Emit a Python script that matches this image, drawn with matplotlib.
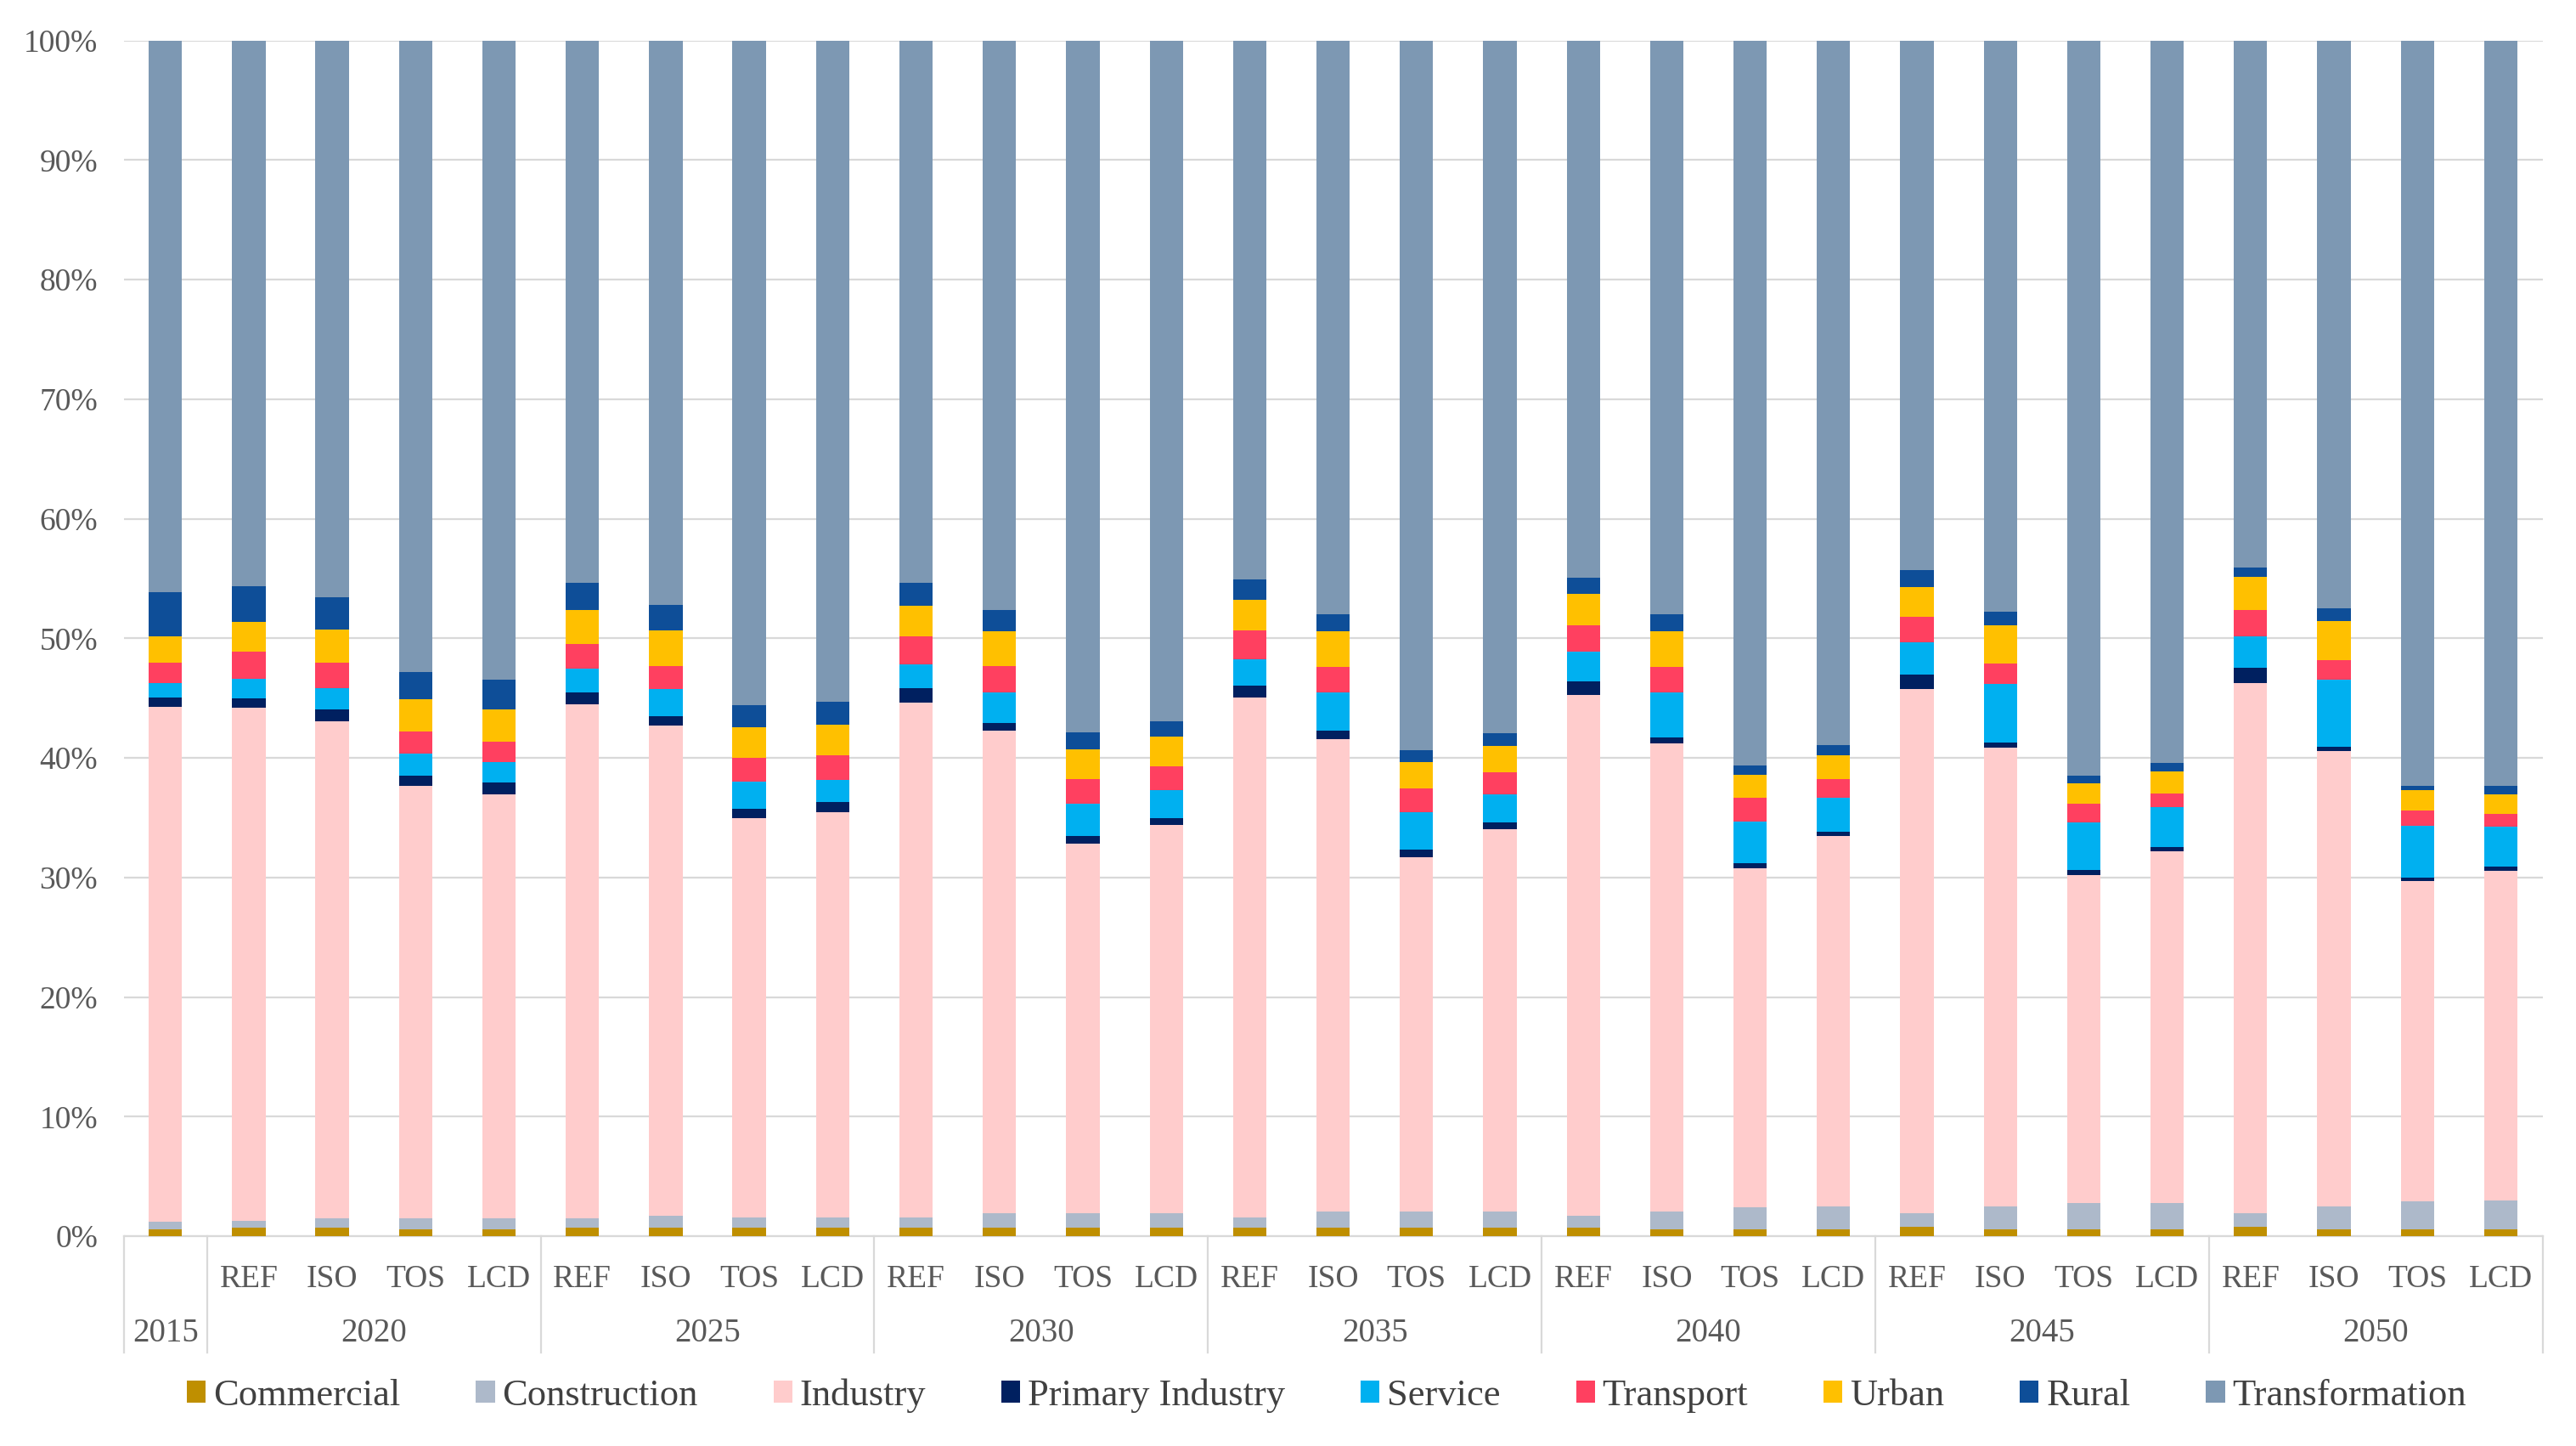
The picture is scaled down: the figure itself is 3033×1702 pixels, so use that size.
import numpy as np
import matplotlib.pyplot as plt
from matplotlib.transforms import blended_transform_factory

plt.rcParams['font.family'] = ['Liberation Serif', 'DejaVu Serif']

# categories: 2015 base year, then four scenarios per year
years = ['2020', '2025', '2030', '2035', '2040', '2045', '2050']
scenarios = ['REF', 'ISO', 'TOS', 'LCD']
bar_labels = [''] + scenarios * len(years)

# shares (%) per sector, bottom to top
commercial = [0.6, 0.7, 0.7, 0.6, 0.6, 0.7, 0.7, 0.7, 0.7, 0.7, 0.7, 0.7, 0.7, 0.7, 0.7,
              0.7, 0.7, 0.7, 0.6, 0.6, 0.6, 0.8, 0.6, 0.6, 0.6, 0.8, 0.6, 0.6, 0.6]
construction = [0.6, 0.6, 0.8, 0.9, 0.9, 0.8, 1.0, 0.9, 0.9, 0.9, 1.2, 1.2, 1.2, 0.9, 1.4,
                1.4, 1.4, 1.0, 1.5, 1.8, 1.9, 1.1, 1.9, 2.2, 2.2, 1.1, 1.9, 2.3, 2.4]
industry = [43.1, 42.9, 41.6, 36.2, 35.4, 43.0, 41.0, 33.3, 33.9, 43.0, 40.4, 31.0, 32.5, 43.4, 39.5,
            29.6, 31.9, 43.5, 39.1, 28.4, 31.0, 43.9, 38.4, 27.4, 29.4, 44.3, 38.1, 26.8, 27.5]
primary_industry = [0.8, 0.8, 1.0, 0.8, 1.0, 1.0, 0.8, 0.8, 0.8, 1.2, 0.6, 0.6, 0.6, 1.0, 0.7,
                    0.6, 0.6, 1.1, 0.5, 0.4, 0.4, 1.2, 0.4, 0.4, 0.4, 1.3, 0.4, 0.3, 0.4]
service = [1.2, 1.6, 1.8, 1.9, 1.7, 2.0, 2.3, 2.3, 1.9, 2.0, 2.6, 2.7, 2.3, 2.2, 3.2,
           3.1, 2.3, 2.5, 3.8, 3.5, 2.8, 2.7, 4.9, 4.0, 3.3, 2.6, 5.6, 4.3, 3.3]
transport = [1.7, 2.3, 2.1, 1.8, 1.7, 2.1, 1.9, 2.0, 2.0, 2.3, 2.2, 2.1, 2.0, 2.4, 2.1,
             2.0, 1.9, 2.2, 2.1, 2.0, 1.6, 2.1, 1.7, 1.6, 1.2, 2.2, 1.6, 1.3, 1.1]
urban = [2.2, 2.5, 2.8, 2.7, 2.7, 2.8, 3.0, 2.5, 2.6, 2.6, 2.9, 2.5, 2.5, 2.6, 3.0,
         2.2, 2.2, 2.6, 3.0, 1.9, 2.0, 2.5, 3.2, 1.7, 1.8, 2.8, 3.3, 1.7, 1.6]
rural = [3.7, 3.0, 2.7, 2.3, 2.5, 2.3, 2.1, 1.9, 1.9, 1.9, 1.8, 1.4, 1.3, 1.7, 1.4,
         1.0, 1.0, 1.4, 1.4, 0.8, 0.8, 1.4, 1.1, 0.6, 0.7, 0.8, 1.1, 0.4, 0.7]
transformation = [46.2, 45.6, 46.6, 52.8, 53.4, 45.4, 47.2, 55.5, 55.3, 45.3, 47.6, 57.9, 56.9, 45.0, 48.0,
                  59.3, 57.9, 44.8, 48.0, 60.7, 59.0, 44.3, 47.8, 61.5, 60.5, 44.0, 47.5, 62.3, 62.3]

sectors = ['Commercial', 'Construction', 'Industry', 'Primary Industry', 'Service',
           'Transport', 'Urban', 'Rural', 'Transformation']
colors = ['#BF8F00', '#ADB9CA', '#FFCCCC', '#002060', '#00B0F0',
          '#FF4060', '#FFC000', '#0E4E98', '#7D98B3']
data = np.array([commercial, construction, industry, primary_industry, service,
                 transport, urban, rural, transformation])
shares = data / data.sum(axis=0) * 100

fig = plt.figure(figsize=(30.33, 17.02), dpi=100)
ax = fig.add_axes([0.048, 0.145, 0.939, 0.827])

x = np.arange(len(bar_labels))
bottom = np.zeros(len(x))
for name, vals, col in zip(sectors, shares, colors):
    ax.bar(x, vals, 0.4, bottom=bottom, color=col, label=name, zorder=3)
    bottom += vals

ax.set_xlim(-0.5, len(x) - 0.5)
ax.set_ylim(0, 100)
ax.set_yticks(np.arange(0, 101, 10))
ax.set_yticklabels(['%d%%' % v for v in range(0, 101, 10)])
ax.grid(axis='y', color='#D9D9D9', linewidth=1.6, zorder=0)
ax.tick_params(axis='y', length=0, pad=22, labelsize=27, labelcolor='#595959')
ax.tick_params(axis='x', length=0, pad=24, labelsize=27, labelcolor='#595959')
ax.set_xticks(x)
ax.set_xticklabels(bar_labels)
for s in ['top', 'right', 'left']:
    ax.spines[s].set_visible(False)
ax.spines['bottom'].set_color('#D9D9D9')
ax.spines['bottom'].set_linewidth(1.6)

# second level of the category axis: years and group separators
trans = blended_transform_factory(ax.transData, ax.transAxes)
ax.text(0, -0.081, '2015', transform=trans, ha='center', va='center',
        fontsize=28, color='#595959')
for i, yr in enumerate(years):
    ax.text(1 + 4 * i + 1.5, -0.081, yr, transform=trans, ha='center', va='center',
            fontsize=28, color='#595959')
for xs in [-0.5, 0.5] + [4.5 + 4 * i for i in range(len(years))]:
    ax.plot([xs, xs], [0, -0.097], transform=trans, color='#D9D9D9',
            linewidth=1.6, clip_on=False)

fig.legend(loc='center', bbox_to_anchor=(0.515, 0.035), ncol=9, frameon=False,
           fontsize=32, labelcolor='#404040', handlelength=0.5, handleheight=0.5,
           handletextpad=0.2, columnspacing=2.0)

fig.savefig('out.png', dpi=100)
